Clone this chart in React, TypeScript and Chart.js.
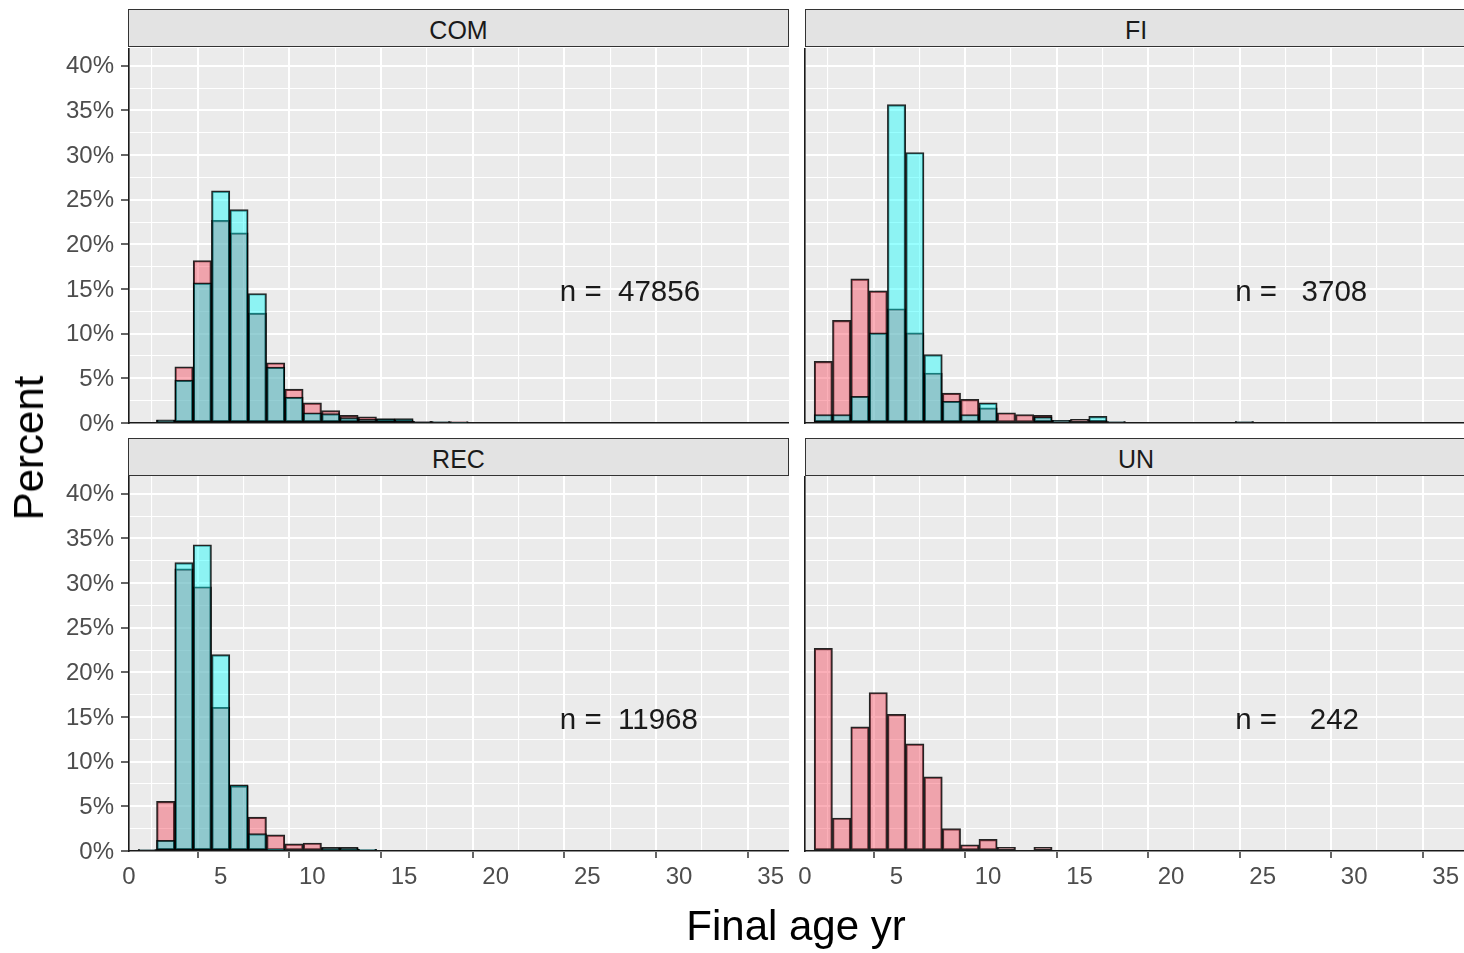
import React, { useEffect, useRef } from 'react';
import { Chart, registerables } from 'chart.js';

Chart.register(...registerables);

// ---------- data ----------
const facets = ['COM', 'FI', 'REC', 'UN'];
const nLabels = ['47856', '3708', '11968', '242'];

// bin centres (final age, years)
const ages = [1, 2, 3, 4, 5, 6, 7, 8, 9, 10, 11, 12, 13, 14, 15, 16, 17, 18, 19, 20, 21, 22, 23, 24];

// percent per bin, pink series (first group) and cyan series (second group)
const comPink = [0, 0.35, 6.3, 18.2, 22.7, 21.3, 12.3, 6.75, 3.8, 2.25, 1.4, 0.85, 0.7, 0.4, 0.35, 0.2, 0.15, 0.15, 0, 0, 0, 0, 0, 0];
const comCyan = [0, 0.3, 4.8, 15.7, 26.0, 23.9, 14.5, 6.25, 2.9, 1.15, 1.05, 0.6, 0.4, 0.5, 0.5, 0.15, 0.15, 0.1, 0, 0, 0, 0, 0, 0];

const fiPink = [6.9, 11.5, 16.15, 14.8, 12.8, 10.1, 5.6, 3.35, 2.65, 1.7, 1.15, 0.95, 0.85, 0.3, 0.4, 0.3, 0.15, 0, 0, 0, 0, 0, 0, 0.15];
const fiCyan = [0.95, 0.95, 3.0, 10.1, 35.65, 30.3, 7.65, 2.45, 0.95, 2.25, 0, 0, 0.7, 0.3, 0, 0.75, 0.15, 0, 0, 0, 0, 0, 0, 0.15];

const recPink = [0.15, 5.55, 31.6, 29.6, 16.1, 7.3, 3.8, 1.8, 0.8, 0.9, 0.4, 0.4, 0.2, 0, 0, 0, 0, 0, 0, 0, 0, 0, 0, 0];
const recCyan = [0.15, 1.2, 32.3, 34.3, 22.0, 7.4, 1.95, 0.2, 0, 0, 0.3, 0.3, 0.2, 0, 0, 0, 0, 0, 0, 0, 0, 0, 0, 0];

const unPink = [22.7, 3.7, 13.9, 17.75, 15.3, 12.0, 8.3, 2.5, 0.7, 1.3, 0.4, 0, 0.4, 0, 0, 0, 0, 0, 0, 0, 0, 0, 0, 0];
const unCyan = [0, 0, 0, 0, 0, 0, 0, 0, 0, 0, 0, 0, 0, 0, 0, 0, 0, 0, 0, 0, 0, 0, 0, 0];

const xTickValues = [0, 2.5, 5, 7.5, 10, 12.5, 15, 17.5, 20, 22.5, 25, 27.5, 30, 32.5, 35];
const yTickValues = [0, 2.5, 5, 7.5, 10, 12.5, 15, 17.5, 20, 22.5, 25, 27.5, 30, 32.5, 35, 37.5, 40];

const X_MIN = 0;
const X_MAX = 36;
const Y_MIN = 0;
const Y_MAX = 42;
const N_LABEL_X = 23.5;
const N_LABEL_Y = 14.6;

const FONT = '"Liberation Sans", Arial, Helvetica, sans-serif';
const PINK = 'rgba(245, 55, 78, 0.4)';
const CYAN = 'rgba(0, 255, 255, 0.4)';

const isMajor = (v: number) => Math.abs(v % 5) < 1e-9;

const bgPlugin = {
  id: 'panelBg',
  beforeDraw(chart: any) {
    const { ctx, chartArea } = chart;
    if (!chartArea) return;
    ctx.save();
    ctx.fillStyle = '#EBEBEB';
    ctx.fillRect(chartArea.left, chartArea.top, chartArea.right - chartArea.left, chartArea.bottom - chartArea.top);
    ctx.restore();
  },
};

const makeNPlugin = (label: string) => ({
  id: 'nLabel',
  afterDatasetsDraw(chart: any) {
    const { ctx, scales } = chart;
    ctx.save();
    ctx.font = `29.5px ${FONT}`;
    ctx.fillStyle = '#1A1A1A';
    ctx.textAlign = 'left';
    ctx.textBaseline = 'middle';
    ctx.fillText('n = ' + label.padStart(6, ' '), scales.x.getPixelForValue(N_LABEL_X), scales.y.getPixelForValue(N_LABEL_Y));
    ctx.restore();
  },
});

type PanelProps = {
  idx: number;
  left: number;
  top: number;
  width: number;
  height: number;
  yAxisWidth: number;
  xAxisHeight: number;
  showY: boolean;
  showX: boolean;
  pink: number[];
  cyan: number[];
};

function Panel(p: PanelProps) {
  const ref = useRef<HTMLCanvasElement | null>(null);
  useEffect(() => {
    if (!ref.current) return;
    const toData = (vals: number[]) => ages.map((a, i) => ({ x: a, y: vals[i] > 0 ? vals[i] : null }));
    const chart = new Chart(ref.current, {
      type: 'bar',
      data: {
        datasets: [
          {
            label: 'cyan',
            data: toData(p.cyan) as any,
            backgroundColor: CYAN,
            borderColor: 'rgba(0,0,0,0.85)',
            borderWidth: 1.5,
            borderSkipped: false,
            grouped: false,
            barPercentage: 1,
            categoryPercentage: 1,
            order: 0,
          } as any,
          {
            label: 'pink',
            data: toData(p.pink) as any,
            backgroundColor: PINK,
            borderColor: 'rgba(0,0,0,0.85)',
            borderWidth: 1.5,
            borderSkipped: false,
            grouped: false,
            barPercentage: 1,
            categoryPercentage: 1,
            order: 1,
          } as any,
        ],
      },
      options: {
        responsive: false,
        maintainAspectRatio: false,
        animation: false,
        layout: { padding: 0 },
        plugins: {
          legend: { display: false },
          tooltip: { enabled: false },
          title: { display: false },
        },
        scales: {
          x: {
            type: 'linear',
            min: X_MIN,
            max: X_MAX,
            offset: false,
            afterBuildTicks: (s: any) => {
              s.ticks = xTickValues.map((v) => ({ value: v }));
            },
            afterFit: (s: any) => {
              s.height = p.xAxisHeight;
              s.paddingLeft = 0;
              s.paddingRight = 0;
            },
            ticks: {
              display: p.showX,
              autoSkip: false,
              maxRotation: 0,
              minRotation: 0,
              padding: 5,
              color: '#4D4D4D',
              font: { size: 24, family: FONT },
              callback: (v: any) => (isMajor(Number(v)) ? String(v) : ''),
            },
            grid: {
              color: '#FFFFFF',
              lineWidth: (ctx: any) => (ctx.tick && isMajor(ctx.tick.value) ? 2 : 1.1),
              drawTicks: p.showX,
              tickLength: 7,
              tickWidth: 1.5,
              tickColor: (ctx: any) => (ctx.tick && isMajor(ctx.tick.value) ? '#333333' : 'rgba(0,0,0,0)'),
            },
            border: { display: true, color: '#1A1A1A', width: 1.6 },
          },
          y: {
            type: 'linear',
            min: Y_MIN,
            max: Y_MAX,
            afterBuildTicks: (s: any) => {
              s.ticks = yTickValues.map((v) => ({ value: v }));
            },
            afterFit: (s: any) => {
              s.width = p.yAxisWidth;
              s.paddingTop = 0;
              s.paddingBottom = 0;
            },
            ticks: {
              display: p.showY,
              autoSkip: false,
              padding: 7,
              labelOffset: 1,
              color: '#4D4D4D',
              font: { size: 24, family: FONT },
              callback: (v: any) => (isMajor(Number(v)) ? `${v}%` : ''),
            },
            grid: {
              color: '#FFFFFF',
              lineWidth: (ctx: any) => (ctx.tick && isMajor(ctx.tick.value) ? 2 : 1.1),
              drawTicks: p.showY,
              tickLength: 8,
              tickWidth: 1.5,
              tickColor: (ctx: any) => (ctx.tick && isMajor(ctx.tick.value) ? '#333333' : 'rgba(0,0,0,0)'),
            },
            border: { display: true, color: '#1A1A1A', width: 1.6 },
          },
        },
      } as any,
      plugins: [bgPlugin, makeNPlugin(nLabels[p.idx])],
    });
    return () => chart.destroy();
  }, []);
  return (
    <canvas
      ref={ref}
      width={p.width}
      height={p.height}
      style={{ position: 'absolute', left: p.left, top: p.top, width: p.width, height: p.height }}
    />
  );
}

function Strip({ label, left, top, width }: { label: string; left: number; top: number; width: number }) {
  return (
    <div
      style={{
        position: 'absolute',
        left,
        top,
        width,
        height: 38,
        boxSizing: 'border-box',
        border: '1.5px solid #333333',
        background: '#E3E3E3',
        display: 'flex',
        alignItems: 'center',
        justifyContent: 'center',
        paddingTop: 4,
        fontSize: 25,
        color: '#1A1A1A',
        fontFamily: FONT,
      }}
    >
      {label}
    </div>
  );
}

export default function App() {
  const seriesPink = [comPink, fiPink, recPink, unPink];
  const seriesCyan = [comCyan, fiCyan, recCyan, unCyan];
  const layouts = [
    { left: 0, top: 48, width: 789, height: 389, yAxisWidth: 129, xAxisHeight: 14, showY: true, showX: false, stripLeft: 128, stripTop: 9 },
    { left: 797, top: 48, width: 667, height: 389, yAxisWidth: 8, xAxisHeight: 14, showY: false, showX: false, stripLeft: 805, stripTop: 9 },
    { left: 0, top: 476, width: 789, height: 435, yAxisWidth: 129, xAxisHeight: 60, showY: true, showX: true, stripLeft: 128, stripTop: 438 },
    { left: 797, top: 476, width: 667, height: 435, yAxisWidth: 8, xAxisHeight: 60, showY: false, showX: true, stripLeft: 805, stripTop: 438 },
  ];
  return (
    <div
      style={{
        position: 'absolute',
        left: 0,
        top: 0,
        width: 1464,
        height: 953,
        background: '#FFFFFF',
        overflow: 'hidden',
        fontFamily: FONT,
      }}
    >
      {layouts.map((l, i) => (
        <React.Fragment key={facets[i]}>
          <Panel
            idx={i}
            left={l.left}
            top={l.top}
            width={l.width}
            height={l.height}
            yAxisWidth={l.yAxisWidth}
            xAxisHeight={l.xAxisHeight}
            showY={l.showY}
            showX={l.showX}
            pink={seriesPink[i]}
            cyan={seriesCyan[i]}
          />
          <Strip label={facets[i]} left={l.stripLeft} top={l.stripTop} width={i % 2 === 0 ? 661 : 662} />
        </React.Fragment>
      ))}
      <div
        style={{
          position: 'absolute',
          left: 29,
          top: 448,
          transform: 'translate(-50%, -50%) rotate(-90deg)',
          fontSize: 42,
          color: '#000000',
          whiteSpace: 'nowrap',
          lineHeight: 'normal',
        }}
      >
        Percent
      </div>
      <div
        style={{
          position: 'absolute',
          left: 796,
          top: 902,
          transform: 'translateX(-50%)',
          fontSize: 42,
          color: '#000000',
          whiteSpace: 'nowrap',
          lineHeight: 'normal',
        }}
      >
        Final age yr
      </div>
    </div>
  );
}
